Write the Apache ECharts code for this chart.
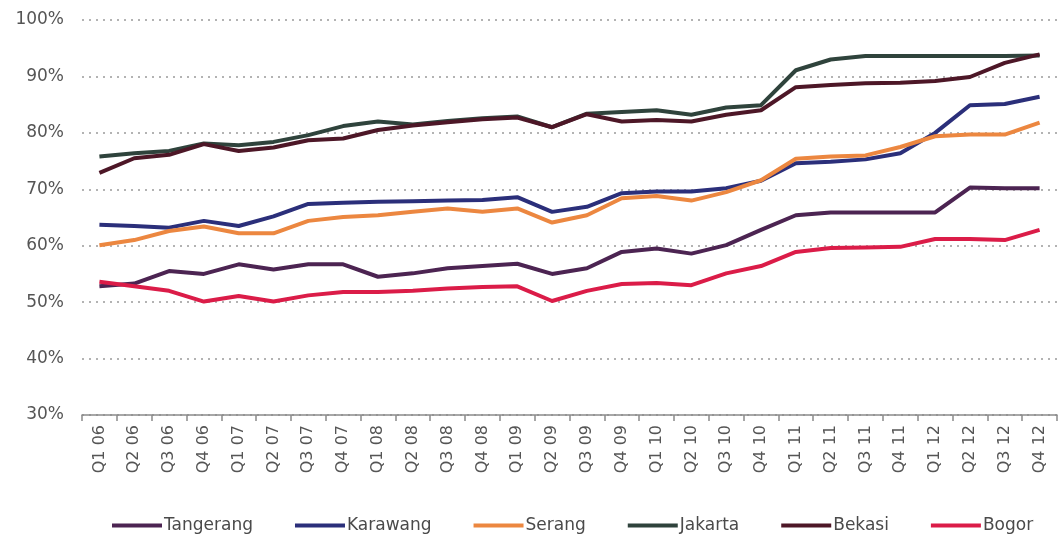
<!DOCTYPE html>
<html>
<head>
<meta charset="utf-8">
<script src="https://cdn.jsdelivr.net/npm/echarts@6/dist/echarts.min.js"></script>
<style>
  html, body { margin: 0; padding: 0; background: #fff; }
  #chart { width: 1062px; height: 543px; }
</style>
</head>
<body>
<div id="chart"></div>
<script>
// Quarterly occupancy rates by area, 2006-2012 (%)
const quarters = [
  'Q1 06','Q2 06','Q3 06','Q4 06','Q1 07','Q2 07','Q3 07','Q4 07',
  'Q1 08','Q2 08','Q3 08','Q4 08','Q1 09','Q2 09','Q3 09','Q4 09',
  'Q1 10','Q2 10','Q3 10','Q4 10','Q1 11','Q2 11','Q3 11','Q4 11',
  'Q1 12','Q2 12','Q3 12','Q4 12'
];

const tangerang = [52.8,53.3,55.5,55.0,56.7,55.8,56.7,56.7,54.5,55.1,56.0,56.4,56.8,55.0,56.0,58.9,59.5,58.6,60.1,62.8,65.4,65.9,65.9,65.9,65.9,70.3,70.2,70.2];
const karawang  = [63.7,63.5,63.2,64.4,63.5,65.2,67.4,67.6,67.8,67.9,68.0,68.1,68.6,66.0,66.9,69.3,69.6,69.6,70.2,71.5,74.6,74.9,75.3,76.4,80.0,84.9,85.1,86.4];
const serang    = [60.1,61.0,62.6,63.4,62.2,62.2,64.4,65.1,65.4,66.0,66.6,66.0,66.6,64.1,65.4,68.4,68.8,68.0,69.5,71.6,75.4,75.8,76.0,77.5,79.4,79.7,79.7,81.8];
const jakarta   = [75.8,76.4,76.8,78.1,77.8,78.4,79.6,81.2,82.0,81.5,82.1,82.6,82.9,81.0,83.4,83.7,84.0,83.2,84.5,84.9,91.1,93.0,93.6,93.6,93.6,93.6,93.6,93.7];
const bekasi    = [72.9,75.5,76.1,78.0,76.8,77.4,78.7,79.0,80.5,81.3,81.9,82.4,82.7,81.0,83.3,82.0,82.3,82.0,83.2,84.0,88.1,88.5,88.8,88.9,89.2,89.9,92.4,93.9];
const bogor     = [53.6,52.8,52.0,50.1,51.1,50.1,51.2,51.8,51.8,52.0,52.4,52.7,52.8,50.2,52.0,53.2,53.4,53.0,55.1,56.4,58.9,59.6,59.7,59.8,61.2,61.2,61.0,62.8];

const seriesDefs = [
  { name: 'Tangerang', data: tangerang, color: '#4c2452' },
  { name: 'Karawang',  data: karawang,  color: '#2b2f7a' },
  { name: 'Serang',    data: serang,    color: '#ec8740' },
  { name: 'Jakarta',   data: jakarta,   color: '#2f433c' },
  { name: 'Bekasi',    data: bekasi,    color: '#4d1727' },
  { name: 'Bogor',     data: bogor,     color: '#db1c48' }
];

const FONT = 'DejaVu Sans';
const chart = echarts.init(document.getElementById('chart'), null, { renderer: 'canvas' });

chart.setOption({
  backgroundColor: '#ffffff',
  animation: false,
  textStyle: { fontFamily: FONT },
  grid: { left: 82, right: 5, top: 20, bottom: 128, containLabel: false },
  legend: {
    bottom: 4,
    left: 107,
    icon: 'rect',
    itemWidth: 50,
    itemHeight: 4,
    itemGap: 42,
    textStyle: { fontFamily: FONT, fontSize: 17, color: '#4a4a4a', padding: [0, 0, 0, -3] },
    data: seriesDefs.map(s => s.name)
  },
  xAxis: {
    type: 'category',
    data: quarters,
    boundaryGap: true,
    axisLine: { lineStyle: { color: '#8a8a8a', width: 1.5 } },
    axisTick: { show: true, length: 6, lineStyle: { color: '#8a8a8a', width: 1.5 } },
    axisLabel: {
      rotate: 90,
      interval: 0,
      margin: 10,
      fontFamily: FONT,
      fontSize: 16,
      color: '#555'
    },
    splitLine: { show: false }
  },
  yAxis: {
    type: 'value',
    min: 30,
    max: 100,
    interval: 10,
    axisLine: { show: false },
    axisTick: { show: false },
    axisLabel: {
      formatter: '{value}%',
      margin: 18,
      fontFamily: FONT,
      fontSize: 17,
      color: '#555'
    },
    splitLine: {
      show: true,
      lineStyle: { color: '#9a9a9a', type: [2, 5], width: 1.5 }
    }
  },
  series: seriesDefs.map(s => ({
    name: s.name,
    type: 'line',
    data: s.data,
    symbol: 'none',
    smooth: false,
    itemStyle: { color: s.color },
    lineStyle: { color: s.color, width: 4 }
  }))
});
</script>
</body>
</html>
